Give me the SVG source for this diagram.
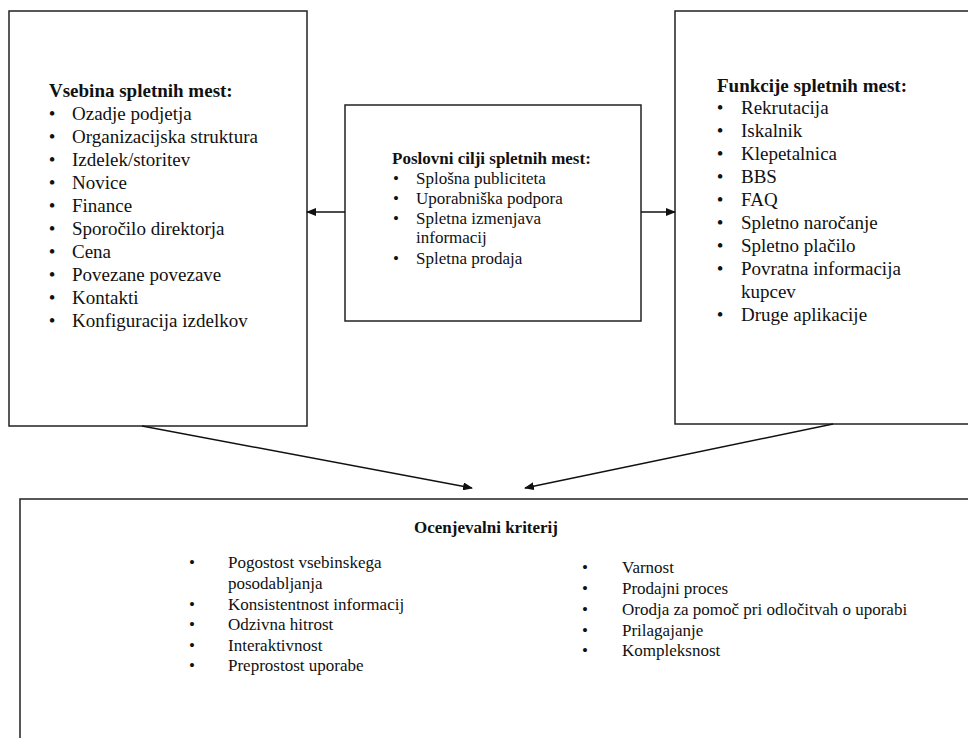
<svg xmlns="http://www.w3.org/2000/svg" width="968" height="738" viewBox="0 0 968 738">
<defs>
<style>
.box{fill:#fff;stroke:#222;stroke-width:1.5}
text{font-family:"Liberation Serif","Times New Roman",serif;fill:#111}
.b{font-weight:bold}
.f19 text,text.f19{font-size:19px}
.f17 text,text.f17{font-size:17px}
.con{stroke:#111;stroke-width:1.4;fill:none}
</style>
<marker id="ah" markerWidth="10" markerHeight="8" refX="9" refY="4" orient="auto" markerUnits="userSpaceOnUse">
<path d="M0,0 L10,4 L0,8 Z" fill="#111"/>
</marker>
</defs>
<rect width="968" height="738" fill="#fff"/>
<g id="content">
<rect class="box" x="9" y="11" width="298" height="415"/>
<text class="f19 b" x="49" y="97">Vsebina spletnih mest:</text>
<g class="f19">
<text x="52" y="120" text-anchor="middle">•</text><text x="72" y="120">Ozadje podjetja</text>
<text x="52" y="143" text-anchor="middle">•</text><text x="72" y="143">Organizacijska struktura</text>
<text x="52" y="166" text-anchor="middle">•</text><text x="72" y="166">Izdelek/storitev</text>
<text x="52" y="189" text-anchor="middle">•</text><text x="72" y="189">Novice</text>
<text x="52" y="212" text-anchor="middle">•</text><text x="72" y="212">Finance</text>
<text x="52" y="235" text-anchor="middle">•</text><text x="72" y="235">Sporočilo direktorja</text>
<text x="52" y="258" text-anchor="middle">•</text><text x="72" y="258">Cena</text>
<text x="52" y="281" text-anchor="middle">•</text><text x="72" y="281">Povezane povezave</text>
<text x="52" y="304" text-anchor="middle">•</text><text x="72" y="304">Kontakti</text>
<text x="52" y="327" text-anchor="middle">•</text><text x="72" y="327">Konfiguracija izdelkov</text>
</g>
</g>
<g id="goals">
<rect class="box" x="345" y="105" width="296" height="216"/>
<text class="f17 b" x="392" y="164">Poslovni cilji spletnih mest:</text>
<g class="f17">
<text x="396" y="184" text-anchor="middle">•</text><text x="416" y="184">Splošna publiciteta</text>
<text x="396" y="204" text-anchor="middle">•</text><text x="416" y="204">Uporabniška podpora</text>
<text x="396" y="224" text-anchor="middle">•</text><text x="416" y="224">Spletna izmenjava</text>
<text x="416" y="243">informacij</text>
<text x="396" y="264" text-anchor="middle">•</text><text x="416" y="264">Spletna prodaja</text>
</g>
</g>
<g id="functions">
<rect class="box" x="675" y="11" width="300" height="413"/>
<text class="f19 b" x="717" y="92">Funkcije spletnih mest:</text>
<g class="f19">
<text x="720" y="114" text-anchor="middle">•</text><text x="741" y="114">Rekrutacija</text>
<text x="720" y="137" text-anchor="middle">•</text><text x="741" y="137">Iskalnik</text>
<text x="720" y="160" text-anchor="middle">•</text><text x="741" y="160">Klepetalnica</text>
<text x="720" y="183" text-anchor="middle">•</text><text x="741" y="183">BBS</text>
<text x="720" y="206" text-anchor="middle">•</text><text x="741" y="206">FAQ</text>
<text x="720" y="229" text-anchor="middle">•</text><text x="741" y="229">Spletno naročanje</text>
<text x="720" y="252" text-anchor="middle">•</text><text x="741" y="252">Spletno plačilo</text>
<text x="720" y="275" text-anchor="middle">•</text><text x="741" y="275">Povratna informacija</text>
<text x="741" y="298">kupcev</text>
<text x="720" y="321" text-anchor="middle">•</text><text x="741" y="321">Druge aplikacije</text>
</g>
</g>
<g id="criteria">
<rect class="box" x="20" y="499" width="960" height="260"/>
<text class="f17 b" x="486" y="533" text-anchor="middle">Ocenjevalni kriterij</text>
<g class="f17">
<text x="192" y="568" text-anchor="middle">•</text><text x="228" y="568">Pogostost vsebinskega</text>
<text x="228" y="589">posodabljanja</text>
<text x="192" y="610" text-anchor="middle">•</text><text x="228" y="610">Konsistentnost informacij</text>
<text x="192" y="630" text-anchor="middle">•</text><text x="228" y="630">Odzivna hitrost</text>
<text x="192" y="651" text-anchor="middle">•</text><text x="228" y="651">Interaktivnost</text>
<text x="192" y="671" text-anchor="middle">•</text><text x="228" y="671">Preprostost uporabe</text>
<text x="585" y="573" text-anchor="middle">•</text><text x="622" y="573">Varnost</text>
<text x="585" y="594" text-anchor="middle">•</text><text x="622" y="594">Prodajni proces</text>
<text x="585" y="615" text-anchor="middle">•</text><text x="622" y="615">Orodja za pomoč pri odločitvah o uporabi</text>
<text x="585" y="636" text-anchor="middle">•</text><text x="622" y="636">Prilagajanje</text>
<text x="585" y="656" text-anchor="middle">•</text><text x="622" y="656">Kompleksnost</text>
</g>
</g>
<g id="connectors">
<line class="con" x1="345" y1="212" x2="307" y2="212" marker-end="url(#ah)"/>
<line class="con" x1="641" y1="212" x2="675" y2="212" marker-end="url(#ah)"/>
<line class="con" x1="142" y1="426" x2="472" y2="488" marker-end="url(#ah)"/>
<line class="con" x1="833" y1="424" x2="525" y2="488" marker-end="url(#ah)"/>
</g>
</svg>
